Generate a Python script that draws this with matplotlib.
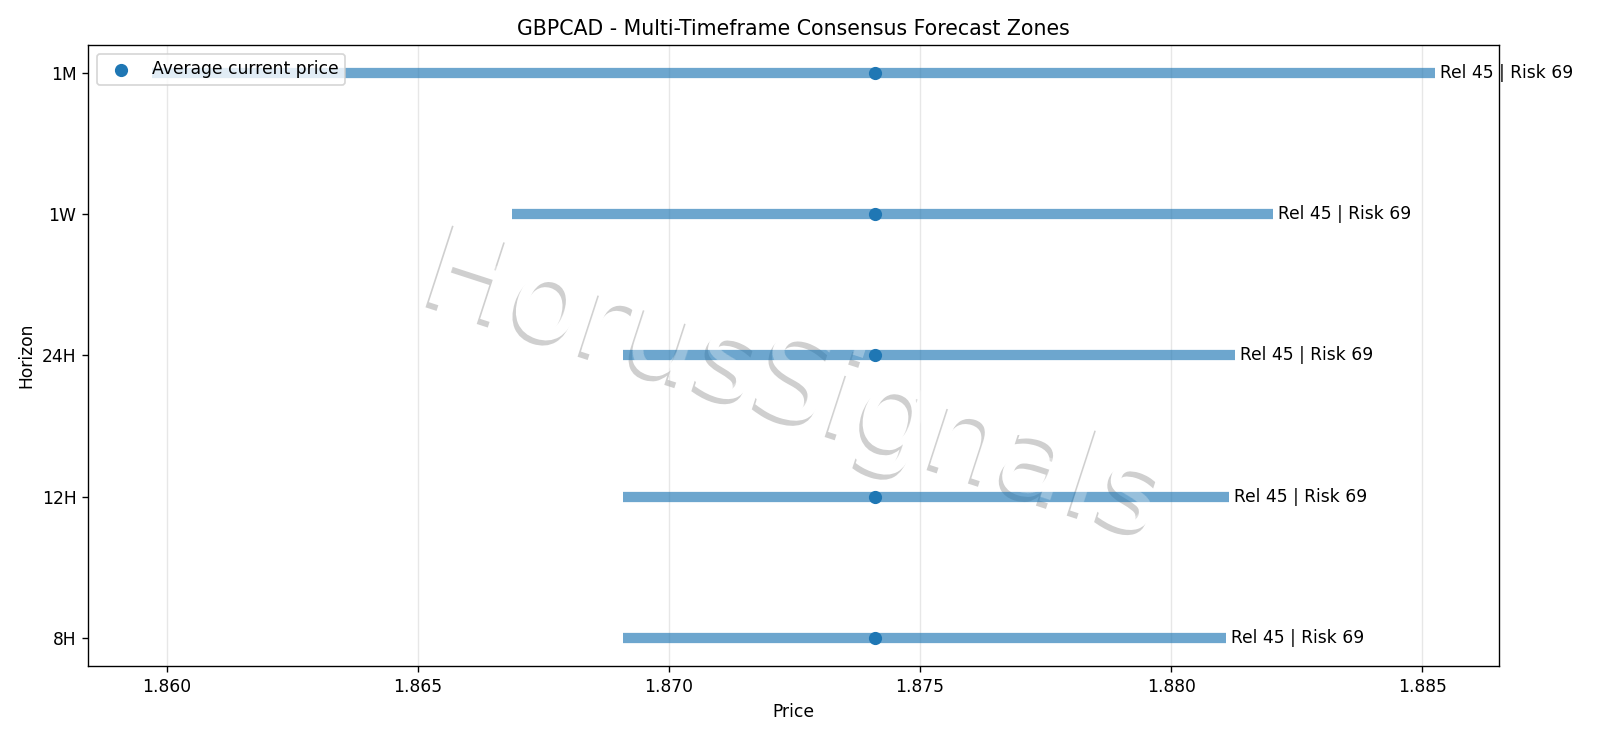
import matplotlib
matplotlib.use('Agg')
import matplotlib.pyplot as plt
import matplotlib.patheffects as pe

horizons = ['8H', '12H', '24H', '1W', '1M']
zone_low = [1.86908, 1.86908, 1.86908, 1.86687, 1.85972]
zone_high = [1.88110, 1.88116, 1.88127, 1.88202, 1.88525]
current_price = [1.87410, 1.87410, 1.87410, 1.87410, 1.87410]
reliability = [45, 45, 45, 45, 45]
risk = [69, 69, 69, 69, 69]

DPI = 123


def main():
    fig, ax = plt.subplots(figsize=(1600 / DPI, 738 / DPI), dpi=DPI)
    fig.subplots_adjust(left=0.0552, right=0.9369, top=0.939, bottom=0.0976)

    ys = list(range(len(horizons)))
    for y, lo, hi, rel, rk in zip(ys, zone_low, zone_high, reliability, risk):
        ax.hlines(y, lo, hi, color='tab:blue', linewidth=6, alpha=0.65, zorder=2)
        ax.text(hi + 0.0001, y, f'Rel {rel} | Risk {rk}', va='center', fontsize=10)
    ax.scatter(current_price, ys, color='tab:blue', s=45, zorder=3, label='Average current price')

    ax.set_yticks(ys)
    ax.set_yticklabels(horizons)
    ax.set_xlabel('Price')
    ax.set_ylabel('Horizon')
    ax.set_title('GBPCAD - Multi-Timeframe Consensus Forecast Zones')
    ax.grid(axis='x', alpha=0.3)
    ax.legend(loc='upper left')

    # watermark: shadowed white text under the bars, faint white copy on top
    wm = dict(transform=ax.transAxes, fontsize=69, rotation=-18,
              ha='center', va='center')
    ax.text(0.5, 0.45, 'HorusSignals', color='white', zorder=1,
            path_effects=[pe.withSimplePatchShadow(offset=(-2, -3), shadow_rgbFace='#b0b0b0', alpha=0.6)],
            **wm)
    ax.text(0.5, 0.45, 'HorusSignals', color='white', alpha=0.3, zorder=5, **wm)

    fig.savefig('out.png', dpi=DPI)
    plt.close(fig)


if __name__ == '__main__':
    main()
